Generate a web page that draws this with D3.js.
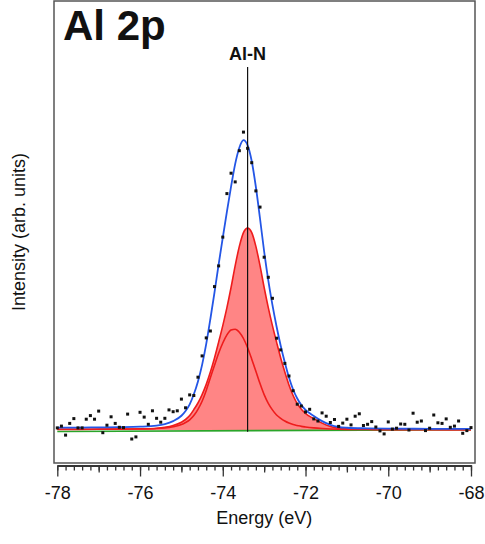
<!DOCTYPE html>
<html>
<head>
<meta charset="utf-8">
<script src="https://cdn.jsdelivr.net/npm/d3@7"></script>
<style>
  body { margin: 0; background: #fff; }
  svg { display: block; font-family: "Liberation Sans", Arial, sans-serif; }
</style>
</head>
<body>
<div class="chart"></div>
<script>
// fitted curves, sampled on a shared energy grid (eV)
const curveEnergy = [-78, -77.5, -77, -76.5, -76, -75.6, -75.4, -75.2, -75.0,
  -74.9, -74.8, -74.7, -74.6, -74.5, -74.4, -74.3, -74.2, -74.1, -74.0,
  -73.9, -73.8, -73.7, -73.6, -73.5, -73.4, -73.3, -73.2, -73.1, -73.0,
  -72.9, -72.8, -72.7, -72.6, -72.5, -72.4, -72.3, -72.2, -72.1, -72.0,
  -71.8, -71.6, -71.4, -71.2, -71.0, -70.5, -70, -69, -68]

const mainPeak = [0.25, 0.25, 0.28, 0.3, 0.4, 0.6, 0.9, 1.5, 2.6,
  3.5, 4.8, 6.8, 9.0, 11.8, 15.2, 19.3, 24.0, 29.3, 34.8,
  40.8, 47.5, 54.8, 61.2, 65.8, 67.3, 65.8, 61.2, 54.8, 47.5,
  40.8, 34.8, 29.3, 24.0, 19.3, 15.0, 11.5, 8.8, 6.9, 5.5,
  3.8, 2.3, 1.2, 0.6, 0.4, 0.25, 0.2, 0.15, 0.1]

const shoulderPeak = [0.2, 0.22, 0.25, 0.3, 0.35, 0.5, 0.7, 1.1, 1.8,
  2.5, 3.4, 4.8, 6.9, 9.6, 13.2, 17.4, 21.6, 25.6, 29.0,
  31.7, 33.3, 33.6, 32.6, 30.5, 27.4, 23.6, 19.6, 15.5, 11.8,
  8.9, 6.7, 5.0, 3.9, 3.0, 2.3, 1.8, 1.5, 1.2, 1.0,
  0.7, 0.5, 0.35, 0.25, 0.2, 0.15, 0.1, 0.1, 0.1]

const envelope = [0.8, 0.8, 0.88, 0.95, 1.1, 1.45, 1.95, 2.95, 4.75,
  6.35, 8.55, 11.9, 16.2, 21.7, 28.7, 37.0, 45.9, 55.2, 64.1,
  72.8, 81.1, 88.7, 94.1, 96.6, 94.9, 89.6, 81.0, 70.5, 59.5,
  49.9, 41.7, 34.5, 28.1, 22.5, 17.5, 13.5, 10.5, 8.3, 6.7,
  4.65, 2.95, 1.7, 1.0, 0.75, 0.55, 0.45, 0.4, 0.35]

const bgEnergy = [-78, -68]
const background = [-0.5, 0.1]

// measured points
const dataEnergy = [
  -78.0, -77.9, -77.8, -77.7, -77.6, -77.5, -77.4, -77.3, -77.2, -77.1,
  -77.0, -76.9, -76.8, -76.7, -76.6, -76.5, -76.4, -76.3, -76.2, -76.1,
  -76.0, -75.9, -75.8, -75.7, -75.6, -75.5, -75.4, -75.3, -75.2, -75.1,
  -75.0, -74.9, -74.8, -74.7, -74.6, -74.5, -74.4, -74.3, -74.2, -74.1,
  -74.0, -73.9, -73.8, -73.7, -73.6, -73.5, -73.4, -73.3, -73.2, -73.1,
  -73.0, -72.9, -72.8, -72.7, -72.6, -72.5, -72.4, -72.3, -72.2, -72.1,
  -72.0, -71.9, -71.8, -71.7, -71.6, -71.5, -71.4, -71.3, -71.2, -71.1,
  -71.0, -70.9, -70.8, -70.7, -70.6, -70.5, -70.4, -70.3, -70.2, -70.1,
  -70.0, -69.9, -69.8, -69.7, -69.6, -69.5, -69.4, -69.3, -69.2, -69.1,
  -69.0, -68.9, -68.8, -68.7, -68.6, -68.5, -68.4, -68.3, -68.2, -68.1,
  -68.0]
const counts = [
  0.7, 1.3, -1.7, 2.2, 3.8, 0.7, 0.7, 3.6, 4.8, 3.6,
  6.3, -0.9, 1.6, 4.4, 2.2, 0.9, 0.8, 5.3, -3.0, -2.3,
  5.9, 4.3, 1.9, 6.4, 3.9, 2.6, 3.9, 6.7, 6.1, 6.4,
  10.3, 7.4, 11.7, 11.5, 17.6, 24.7, 30.7, 33.0, 47.8, 54.7,
  64.3, 78.8, 85.6, 82.7, 93.1, 99.3, 93.9, 89.1, 79.7, 74.3,
  57.6, 50.9, 43.9, 30.6, 26.7, 22.2, 18.0, 13.1, 8.6, 8.0,
  6.0, 6.9, 3.7, 3.0, 5.7, 4.6, 2.5, 3.5, 1.2, 2.3,
  3.6, 1.7, 4.6, 5.4, 1.5, 1.9, 2.8, 1.0, -0.3, -1.3,
  2.7, 0.3, 0.6, 2.0, 1.9, 0.0, 5.6, 2.6, 3.0, -0.2,
  0.6, 5.0, 2.4, 2.2, 3.7, 0.9, 1.3, 3.0, -1.1, -0.2,
  0.8]

const xTicks = [-78, -76, -74, -72, -70, -68]
const marker = { label: "Al-N", energy: -73.4, top: 121, bottom: -0.6 }

const W = 485, H = 544
const frame = { left: 54, right: 475, top: 1, bottom: 463 }

const x = d3.scaleLinear().domain([-78, -68]).range([57.3, 471])
const y = d3.scaleLinear().domain([-11, 143]).range([frame.bottom, frame.top])

const svg = d3.select(".chart").append("svg")
    .attr("width", W)
    .attr("height", H)

svg.append("clipPath").attr("id", "plot")
  .append("rect")
    .attr("x", frame.left).attr("y", frame.top)
    .attr("width", frame.right - frame.left)
    .attr("height", frame.bottom - frame.top)

const plot = svg.append("g").attr("clip-path", "url(#plot)")

const fits = curveEnergy.map((e, i) => ({
  e, main: mainPeak[i], shoulder: shoulderPeak[i], env: envelope[i]
}))

const area = key => d3.area()
    .curve(d3.curveMonotoneX)
    .x(d => x(d.e))
    .y0(y(0))
    .y1(d => y(d[key]))
const line = key => d3.line()
    .curve(d3.curveMonotoneX)
    .x(d => x(d.e))
    .y(d => y(d[key]))

// filled components
;["main", "shoulder"].forEach(k => {
  plot.append("path")
      .attr("d", area(k)(fits))
      .attr("fill", "#ff8585")
})

// background
plot.append("path")
    .attr("d", d3.line().x(d => x(d[0])).y(d => y(d[1]))(bgEnergy.map((e, i) => [e, background[i]])))
    .attr("fill", "none")
    .attr("stroke", "#2aa52a")
    .attr("stroke-width", 1.6)

;["main", "shoulder"].forEach(k => {
  plot.append("path")
      .attr("d", line(k)(fits))
      .attr("fill", "none")
      .attr("stroke", "#ee1c1c")
      .attr("stroke-width", 1.6)
})

plot.append("path")
    .attr("d", line("env")(fits))
    .attr("fill", "none")
    .attr("stroke", "#2456e6")
    .attr("stroke-width", 1.8)

// peak position marker
plot.append("line")
    .attr("x1", x(marker.energy)).attr("x2", x(marker.energy))
    .attr("y1", y(marker.top)).attr("y2", y(marker.bottom))
    .attr("stroke", "#111")
    .attr("stroke-width", 1.2)

svg.append("text")
    .attr("x", x(marker.energy))
    .attr("y", 60)
    .attr("text-anchor", "middle")
    .attr("font-size", 18)
    .attr("font-weight", "bold")
    .attr("fill", "#111")
    .text(marker.label)

// data points
plot.selectAll(".dot")
    .data(dataEnergy.map((e, i) => [e, counts[i]]))
  .enter().append("rect")
    .attr("class", "dot")
    .attr("x", d => x(d[0]) - 1.5)
    .attr("y", d => y(d[1]) - 1.5)
    .attr("width", 3)
    .attr("height", 3)
    .attr("fill", "#111")

// frame
svg.append("rect")
    .attr("x", frame.left).attr("y", frame.top)
    .attr("width", frame.right - frame.left)
    .attr("height", frame.bottom - frame.top)
    .attr("fill", "none")
    .attr("stroke", "#555")
    .attr("stroke-width", 1.5)

// x axis, offset just below the frame
const axisY = frame.bottom + 2.5
const minorTicks = d3.range(0, 51).map(i => -78 + i * 0.2)
const midTicks = [-77, -75, -73, -71, -69]

svg.append("g")
    .attr("transform", `translate(0,${axisY})`)
    .call(d3.axisBottom(x).tickValues(minorTicks).tickSize(5).tickSizeOuter(0).tickFormat(""))
svg.append("g")
    .attr("transform", `translate(0,${axisY})`)
    .call(d3.axisBottom(x).tickValues(midTicks).tickSize(7).tickSizeOuter(0).tickFormat(""))
svg.append("g")
    .attr("class", "major")
    .attr("transform", `translate(0,${axisY})`)
    .call(d3.axisBottom(x).tickValues(xTicks).tickSize(11).tickSizeOuter(0)
      .tickPadding(10).tickFormat(d => String(d)))

svg.selectAll(".domain, .tick line")
    .attr("stroke", "#333")
    .attr("stroke-width", 1.3)
svg.selectAll(".major text")
    .attr("font-size", 18)
    .attr("font-family", "Liberation Sans, Arial, sans-serif")
    .attr("fill", "#111")

svg.append("text")
    .attr("x", (x.range()[0] + x.range()[1]) / 2)
    .attr("y", 524)
    .attr("text-anchor", "middle")
    .attr("font-size", 18)
    .attr("fill", "#111")
    .text("Energy (eV)")

svg.append("text")
    .attr("transform", `translate(25,${(frame.top + frame.bottom) / 2}) rotate(-90)`)
    .attr("text-anchor", "middle")
    .attr("font-size", 18)
    .attr("fill", "#111")
    .text("Intensity (arb. units)")

svg.append("text")
    .attr("x", 63)
    .attr("y", 40)
    .attr("font-size", 42)
    .attr("font-weight", "bold")
    .attr("fill", "#111")
    .text("Al 2p")
</script>
</body>
</html>
